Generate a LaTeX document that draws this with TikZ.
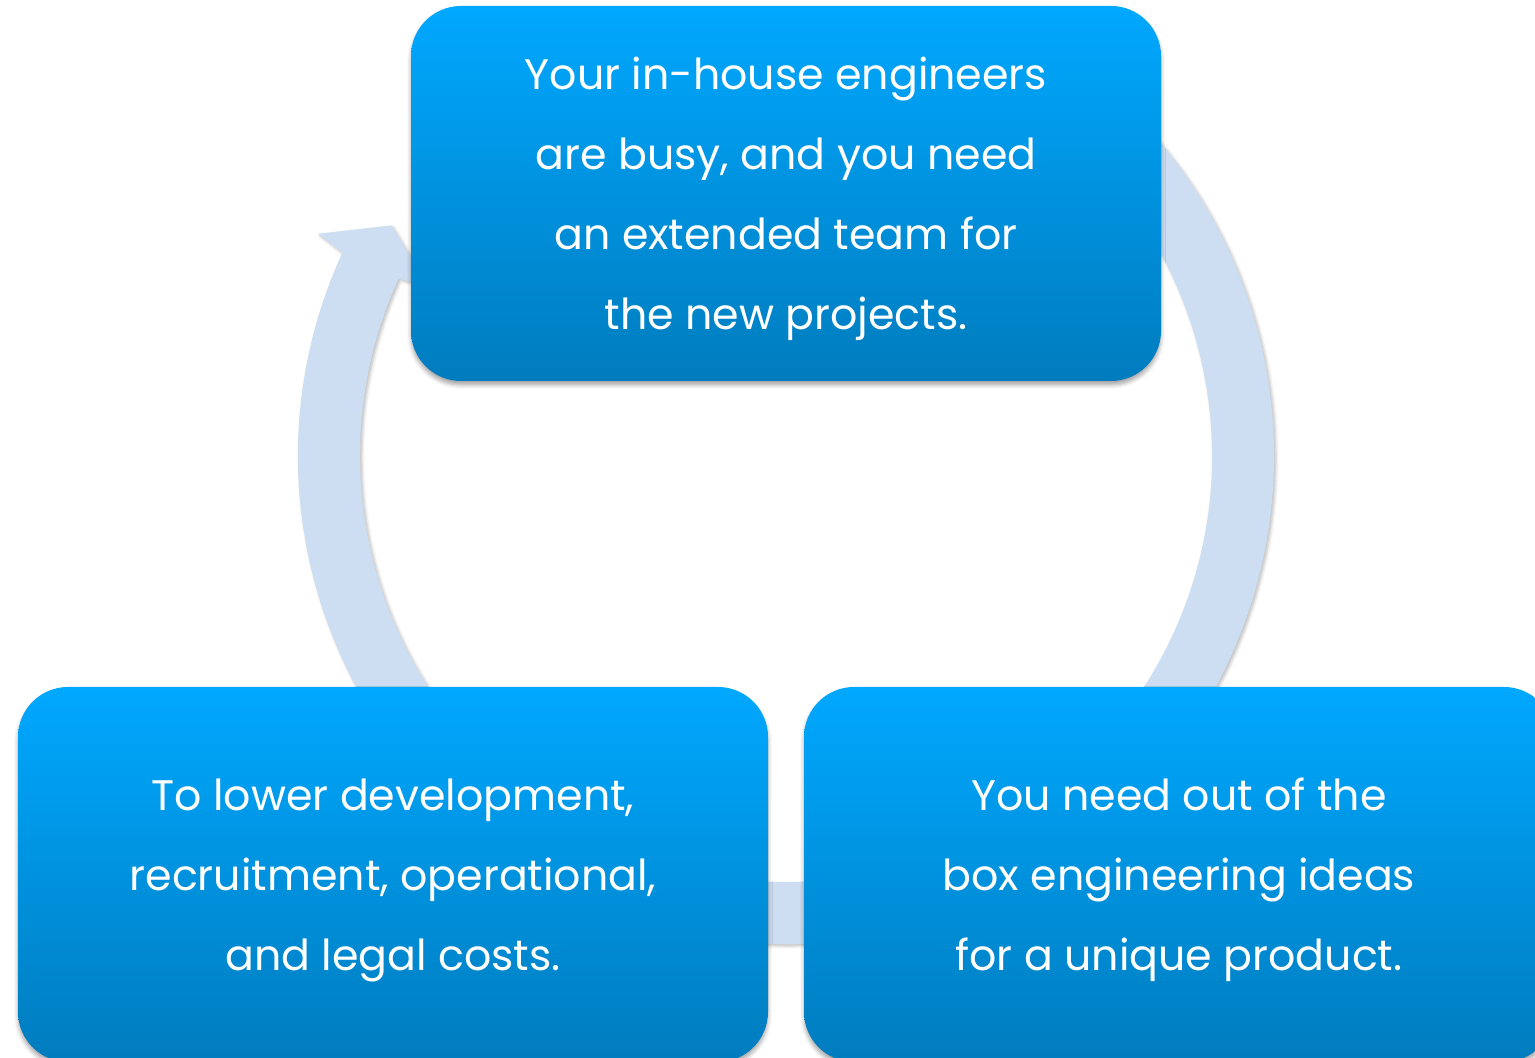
\documentclass[tikz,border=0pt]{standalone}
\usepackage{fontspec}
\setmainfont{Poppins}
\usepackage{tikz}
\usetikzlibrary{shadows.blur}
\definecolor{boxtop}{RGB}{0,168,255}
\definecolor{boxbottom}{RGB}{0,124,190}
\definecolor{ringblue}{RGB}{205,222,242}
\tikzset{
  cyclebox/.style={rectangle, rounded corners=50pt, draw=none,
                   top color=boxtop, bottom color=boxbottom,
                   text=white, align=center, text depth=0pt,
                   minimum width=750pt, minimum height=375pt,
                   font=\fontsize{42.7}{80}\selectfont,
                   blur shadow={shadow xshift=0pt, shadow yshift=-4pt,
                                shadow blur radius=4pt, shadow opacity=35}},
  ringarrow/.style={fill=ringblue,
                    blur shadow={shadow xshift=2pt, shadow yshift=-2pt,
                                 shadow blur radius=3pt, shadow opacity=25}},
}

\begin{document}
\begin{tikzpicture}[x=1pt, y=1pt]
  \useasboundingbox (0,0) rectangle (1535,1058);
  \clip (0,0) rectangle (1535,1058);
  % circular arrow behind the boxes
  \coordinate (hub) at (786,602);
  \path[ringarrow, shift={(hub)}]
    (155.4:488pt) arc[start angle=155.4, end angle=420, radius=488pt]
    -- (420:426pt) arc[start angle=420, end angle=155.4, radius=426pt]
    -- (154.6:396pt) -- (149.7:457pt) -- (154.6:518pt) -- cycle;
  % the three boxes
  \node[cyclebox] (busy) at (786,864.5)
    {Your in-house engineers\\are busy, and you need\\an extended team for\\the new projects.};
  \node[cyclebox] (costs) at (393,183.5)
    {To lower development,\\recruitment, operational,\\and legal costs.};
  \node[cyclebox] (ideas) at (1179,183.5)
    {You need out of the\\box engineering ideas\\for a unique product.};
\end{tikzpicture}
\end{document}
